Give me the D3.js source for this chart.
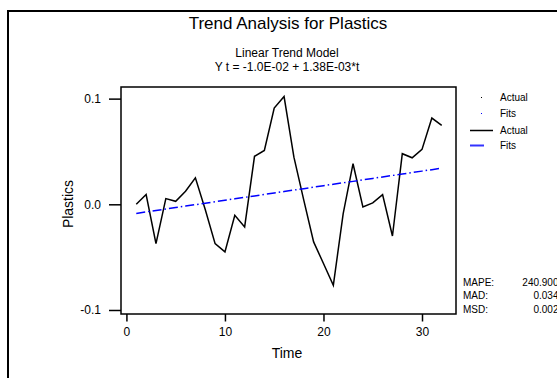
<!DOCTYPE html>
<html>
<head>
<meta charset="utf-8">
<script src="https://cdn.jsdelivr.net/npm/d3@7"></script>
<style>
  body { margin: 0; background: #fff; }
  text { font-family: "Liberation Sans", Arial, sans-serif; fill: #000; }
</style>
</head>
<body>
<div id="chart"></div>
<script>
// Data
const times = d3.range(1, 33)
const actual = [0.000, 0.0092, -0.0372, 0.0054, 0.0028, 0.0123, 0.025, -0.005,
  -0.0372, -0.045, -0.0104, -0.0214, 0.0454, 0.051, 0.091, 0.102,
  0.0446, 0.004, -0.0356, -0.056, -0.0766, -0.0088, 0.0384, -0.0025,
  0.0013, 0.0092, -0.030, 0.0479, 0.044, 0.052, 0.0816, 0.0747]
const fits = [-0.0086, -0.0072, -0.0059, -0.0045, -0.0031, -0.0017, -0.0003, 0.0010,
  0.0024, 0.0038, 0.0052, 0.0066, 0.0079, 0.0093, 0.0107, 0.0121,
  0.0135, 0.0148, 0.0162, 0.0176, 0.0190, 0.0204, 0.0217, 0.0231,
  0.0245, 0.0259, 0.0273, 0.0286, 0.0300, 0.0314, 0.0328, 0.0342]
const xTicks = [0, 10, 20, 30]
const yTicks = [-0.1, 0.0, 0.1]
const statNames = ['MAPE:', 'MAD:', 'MSD:']
const statValues = ['240.900', '0.034', '0.002']
const legendNames = ['Actual', 'Fits', 'Actual', 'Fits']

const width = 557, height = 378
const plotL = 121, plotR = 456, plotT = 87, plotB = 314

const svg = d3.select('#chart').append('svg')
  .attr('width', width)
  .attr('height', height)

// outer frame
svg.append('rect')
  .attr('x', 8).attr('y', 11)
  .attr('width', 620).attr('height', 420)
  .attr('fill', 'none').attr('stroke', '#000').attr('stroke-width', 2)

const x = d3.scaleLinear().domain([-0.55, 33.45]).range([plotL, plotR])
const y = d3.scaleLinear().domain([-0.1038, 0.111]).range([plotB, plotT])

// titles
svg.append('text').attr('x', 288).attr('y', 29).attr('text-anchor', 'middle')
  .style('font-size', '17px').text('Trend Analysis for Plastics')
svg.append('text').attr('x', 287).attr('y', 56.5).attr('text-anchor', 'middle')
  .style('font-size', '12px').text('Linear Trend Model')
svg.append('text').attr('x', 287).attr('y', 71).attr('text-anchor', 'middle')
  .style('font-size', '12px').text('Y t = -1.0E-02 + 1.38E-03*t')

// axes
const gx = svg.append('g')
  .attr('transform', `translate(0,${plotB})`)
  .call(d3.axisBottom(x).tickValues(xTicks).tickSize(7.5).tickPadding(6))
const gy = svg.append('g')
  .attr('transform', `translate(${plotL},0)`)
  .call(d3.axisLeft(y).tickValues(yTicks).tickSize(12).tickPadding(8).tickFormat(d => d.toFixed(1)))
;[gx, gy].forEach(g => {
  g.select('.domain').remove()
  g.selectAll('line').attr('stroke', '#000').attr('stroke-width', 1.5)
  g.selectAll('text').style('font-size', '12px').style('font-family', '"Liberation Sans", Arial, sans-serif')
})

// plot frame
svg.append('rect')
  .attr('x', plotL).attr('y', plotT)
  .attr('width', plotR - plotL).attr('height', plotB - plotT)
  .attr('fill', 'none').attr('stroke', '#000').attr('stroke-width', 1.5)

// lines
const line = d3.line().x((d, i) => x(times[i])).y(d => y(d))
svg.append('path').datum(actual).attr('d', line)
  .attr('fill', 'none').attr('stroke', '#000').attr('stroke-width', 1.5)
svg.append('path').datum(fits).attr('d', line)
  .attr('fill', 'none').attr('stroke', '#0000ff').attr('stroke-width', 1.5)
  .attr('stroke-dasharray', '9,3,1.5,3')

// axis labels
svg.append('text').attr('x', 287).attr('y', 358).attr('text-anchor', 'middle')
  .style('font-size', '14px').text('Time')
svg.append('text').attr('transform', 'translate(73,204) rotate(-90)').attr('text-anchor', 'middle')
  .style('font-size', '14px').text('Plastics')

// legend
const legY = [97.5, 113.5, 130.5, 145.5]
const lg = svg.append('g')
lg.append('rect').attr('x', 481).attr('y', legY[0] - 0.5).attr('width', 1).attr('height', 1).attr('fill', '#000')
lg.append('rect').attr('x', 481).attr('y', legY[1] - 0.5).attr('width', 1).attr('height', 1).attr('fill', '#0000ff')
lg.append('line').attr('x1', 470).attr('x2', 493).attr('y1', legY[2]).attr('y2', legY[2])
  .attr('stroke', '#000').attr('stroke-width', 1.5)
lg.append('line').attr('x1', 470).attr('x2', 484).attr('y1', legY[3]).attr('y2', legY[3])
  .attr('stroke', '#3333ff').attr('stroke-width', 2)
lg.selectAll('text').data(legendNames).enter().append('text')
  .attr('x', 500).attr('y', (d, i) => legY[i] + 3.5)
  .style('font-size', '10px').text(d => d)

// accuracy measures
const statY = [286, 298.5, 312.5]
svg.selectAll('.sname').data(statNames).enter().append('text')
  .attr('class', 'sname').attr('x', 463).attr('y', (d, i) => statY[i])
  .style('font-size', '10px').text(d => d)
svg.selectAll('.sval').data(statValues).enter().append('text')
  .attr('class', 'sval').attr('x', 558.5).attr('y', (d, i) => statY[i]).attr('text-anchor', 'end')
  .style('font-size', '10px').text(d => d)
</script>
</body>
</html>
